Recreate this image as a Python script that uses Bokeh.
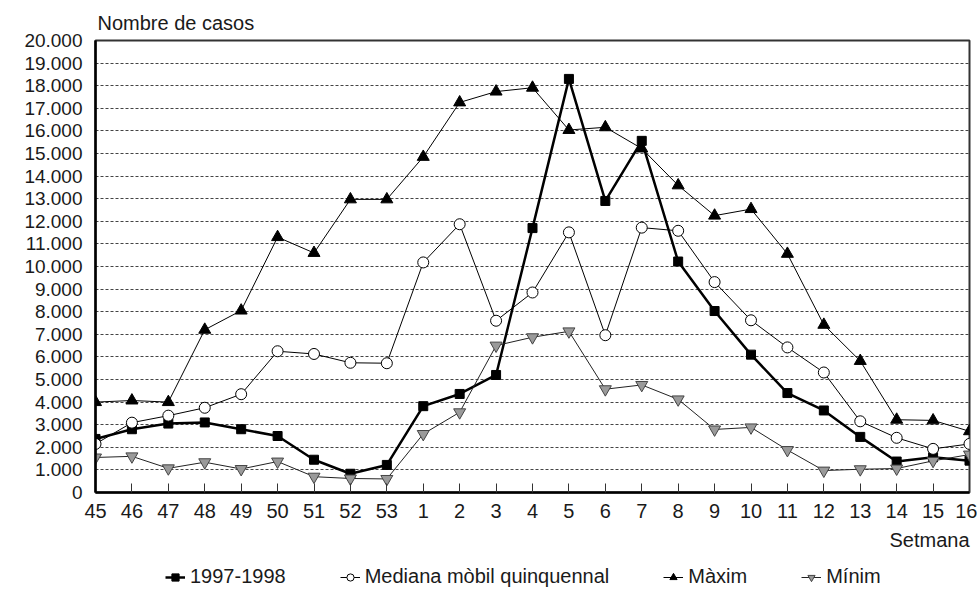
from bokeh.plotting import figure
from bokeh.layouts import column
from bokeh.models import Range1d, FixedTicker, Title, Legend, LegendItem
from bokeh.embed import file_html
from bokeh.resources import INLINE

weeks = ["45", "46", "47", "48", "49", "50", "51", "52", "53", "1", "2", "3", "4",
         "5", "6", "7", "8", "9", "10", "11", "12", "13", "14", "15", "16"]
season = [2370, 2800, 3050, 3100, 2800, 2500, 1450, 830, 1220, 3820, 4360, 5200, 11700,
          18300, 12900, 15560, 10220, 8030, 6100, 4400, 3630, 2460, 1370, 1560, 1410]
median = [2150, 3090, 3400, 3750, 4350, 6250, 6130, 5740, 5720, 10180, 11870, 7600, 8850,
          11510, 6960, 11720, 11580, 9310, 7620, 6420, 5310, 3150, 2420, 1930, 2150]
maximum = [4000, 4070, 4000, 7200, 8050, 11300, 10600, 12970, 12970, 14850, 17260, 17740, 17910,
           16040, 16160, 15220, 13590, 12250, 12540, 10560, 7420, 5820, 3220, 3190, 2710]
minimum = [1550, 1600, 1070, 1340, 1040, 1370, 700, 620, 600, 2590, 3550, 6500, 6870,
           7130, 4570, 4760, 4120, 2790, 2880, 1880, 970, 1030, 1060, 1400, 1680]
y_ticks = [0, 1000, 2000, 3000, 4000, 5000, 6000, 7000, 8000, 9000, 10000,
           11000, 12000, 13000, 14000, 15000, 16000, 17000, 18000, 19000, 20000]
y_labels = ["0", "1.000", "2.000", "3.000", "4.000", "5.000", "6.000", "7.000", "8.000",
            "9.000", "10.000", "11.000", "12.000", "13.000", "14.000", "15.000", "16.000",
            "17.000", "18.000", "19.000", "20.000"]
series_names = ["1997-1998", "Mediana mòbil quinquennal", "Màxim", "Mínim"]
y_title = "Nombre de casos"
x_title = "Setmana"

FONT = "Liberation Sans"
TXT = "#1a1a1a"

# series styles
styles = [
    dict(line=dict(line_color="black", line_width=2.5),
         marker=dict(marker="square", size=9, fill_color="black", line_color="black")),
    dict(line=dict(line_color="black", line_width=1),
         marker=dict(marker="circle", size=11, fill_color="white", line_color="black", line_width=1)),
    dict(line=dict(line_color="black", line_width=1),
         marker=dict(marker="triangle", size=12, fill_color="black", line_color="black")),
    dict(line=dict(line_color="#222222", line_width=1),
         marker=dict(marker="inverted_triangle", size=12, fill_color="#9a9a9a", line_color="#444444")),
]

xs = list(range(len(weeks)))

p = figure(width=977, height=560,
           x_range=Range1d(0, len(weeks) - 1), y_range=Range1d(y_ticks[0], y_ticks[-1]),
           output_backend="svg", toolbar_location=None,
           min_border_left=95, min_border_right=8, min_border_top=40, min_border_bottom=68,
           background_fill_color="white", border_fill_color="white")
p.outline_line_color = "#333333"
p.outline_line_width = 2

p.title.text = y_title
p.title.align = "left"
p.title.offset = 2
p.title.standoff = 14
p.title.text_font = FONT
p.title.text_font_size = "20px"
p.title.text_font_style = "normal"
p.title.text_color = TXT

# axes
p.xaxis.ticker = FixedTicker(ticks=xs)
p.xaxis.major_label_overrides = {i: w for i, w in enumerate(weeks)}
p.xaxis.major_tick_in = 9
p.xaxis.major_tick_out = 0
p.xaxis.minor_tick_line_color = None
p.xaxis.major_tick_line_color = "#333333"
p.xaxis.axis_line_width = 2.5
p.xaxis.axis_line_color = "black"
p.xaxis.major_label_text_font = FONT
p.xaxis.major_label_text_font_size = "20px"
p.xaxis.major_label_text_color = TXT
p.xaxis.major_label_standoff = 11

p.yaxis.ticker = FixedTicker(ticks=y_ticks)
p.yaxis.major_label_overrides = dict(zip(y_ticks, y_labels))
p.yaxis.major_tick_in = 0
p.yaxis.major_tick_out = 0
p.yaxis.minor_tick_line_color = None
p.yaxis.axis_line_width = 2.5
p.yaxis.axis_line_color = "black"
p.yaxis.major_label_text_font = FONT
p.yaxis.major_label_text_font_size = "19px"
p.yaxis.major_label_text_color = TXT
p.yaxis.major_label_standoff = 13

p.xgrid.visible = False
p.ygrid.ticker = FixedTicker(ticks=y_ticks[1:-1])
p.ygrid.grid_line_color = "#444444"
p.ygrid.grid_line_dash = "3 2"
p.ygrid.grid_line_width = 1

# series (drawn in legend order so later ones sit on top)
for vals, st in zip([season, median, maximum, minimum], styles):
    p.line(xs, vals, **st["line"])
    p.scatter(xs, vals, **st["marker"])

x_lab = Title(text=x_title, align="right", text_font=FONT, text_font_size="20px",
              text_font_style="normal", text_color=TXT, standoff=13)
p.add_layout(x_lab, "below")

# legend strip underneath
p2 = figure(width=977, height=30, x_range=Range1d(0, 1), y_range=Range1d(0, 1),
            output_backend="svg", toolbar_location=None, min_border=0,
            background_fill_color="white", border_fill_color="white")
p2.outline_line_color = None
p2.axis.visible = False
p2.grid.visible = False
nan = float("nan")
items = []
for name, st in zip(series_names, styles):
    lr = p2.line([nan], [nan], **st["line"])
    mr = p2.scatter([nan], [nan], **st["marker"])
    items.append(LegendItem(label=name, renderers=[lr, mr]))
legend = Legend(items=items, orientation="horizontal", location=(70, 2))
legend.border_line_color = None
legend.background_fill_alpha = 0
legend.padding = 0
legend.margin = 0
legend.spacing = 54
legend.glyph_width = 20
legend.glyph_height = 18
legend.label_standoff = 5
legend.label_text_font = FONT
legend.label_text_font_size = "20px"
legend.label_text_color = TXT
p2.add_layout(legend, "center")

layout = column(p, p2, spacing=0)
open("out.html", "w").write(file_html(layout, INLINE))
